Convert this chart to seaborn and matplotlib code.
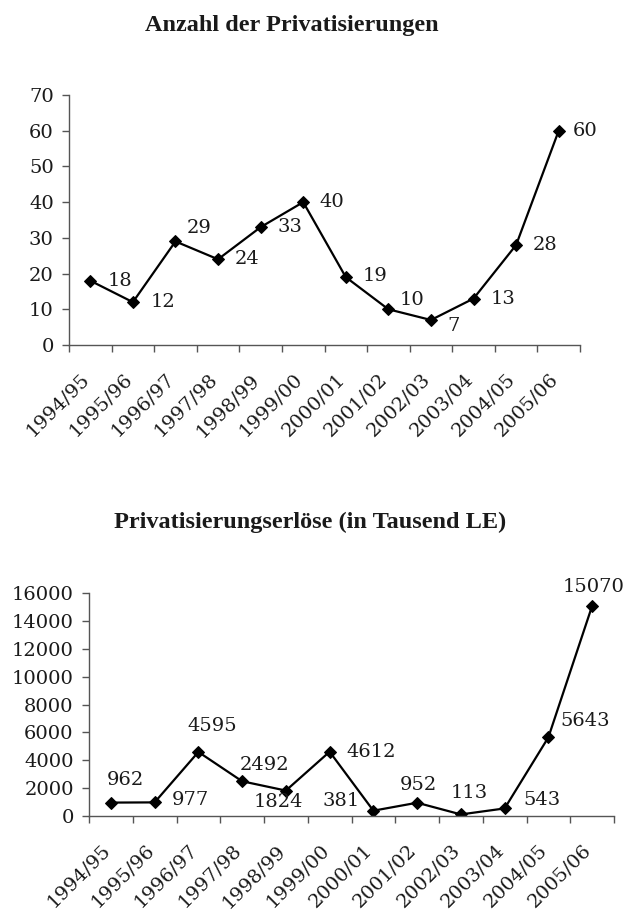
import matplotlib
matplotlib.use("Agg")
import matplotlib.pyplot as plt
import matplotlib.transforms as mtrans
import seaborn as sns
import pandas as pd

years = ["1994/95", "1995/96", "1996/97", "1997/98", "1998/99", "1999/00",
         "2000/01", "2001/02", "2002/03", "2003/04", "2004/05", "2005/06"]
anzahl = [18, 12, 29, 24, 33, 40, 19, 10, 7, 13, 28, 60]
erloese = [962, 977, 4595, 2492, 1824, 4612, 381, 952, 113, 543, 5643, 15070]

# label centre offsets in pixels (dx, dy up) from each marker
off_top = [(30, 0), (30, 0), (24, 13), (29, 0), (29, 0), (29, 0),
           (29, 1), (24, 9), (23, -6), (30, 0), (29, 0), (26, 0)]
off_bot = [(14, 23), (36, 2), (14, 26), (22, 16), (-7, -11), (42, 0),
           (-32, 10), (1, 18), (8, 21), (37, 8), (37, 16), (1, 19)]

sns.set_theme(style="white")
plt.rcParams['font.family'] = ['DejaVu Serif']

txtcol = "#1a1a1a"
axcol = "#555555"

fig = plt.figure(figsize=(6.25, 9.1), dpi=100)
ax1 = fig.add_axes([69 / 625, 1 - 345 / 910, 511 / 625, 250 / 910])
ax2 = fig.add_axes([89 / 625, 1 - 816 / 910, 525 / 625, 223 / 910])

def draw(ax, vals, ymax, ystep, offs):
    df = pd.DataFrame({"Jahr": list(range(len(years))), "Wert": vals})
    sns.lineplot(data=df, x="Jahr", y="Wert", ax=ax, color="black", linewidth=1.6,
                 marker="D", markersize=6.5, markeredgecolor="black", markerfacecolor="black")
    for i, v in enumerate(vals):
        dx, dy = offs[i]
        ax.annotate(str(v), (i, v), xytext=(dx * 0.72, dy * 0.72), textcoords="offset points",
                    ha="center", va="center", fontsize=14, color=txtcol)
    ax.set_xlim(-0.5, len(years) - 0.5)
    ax.set_ylim(0, ymax)
    ax.set_yticks(range(0, ymax + 1, ystep))
    ax.set_xticks(range(len(years)))
    ax.set_xticklabels(years, rotation=45, ha="right", va="top", rotation_mode="anchor")
    ax.set_xticks([i - 0.5 for i in range(len(years) + 1)], minor=True)
    ax.tick_params(axis="x", which="major", bottom=True, length=0, pad=18, labelsize=14,
                   labelcolor=txtcol)
    ax.tick_params(axis="x", which="minor", bottom=True, length=5, width=1, color=axcol,
                   direction="out")
    ax.tick_params(axis="y", left=True, length=5, width=1, color=axcol, direction="out",
                   labelsize=14, pad=6, labelcolor=txtcol)
    shift = mtrans.ScaledTranslation(-10 / 100, 0, fig.dpi_scale_trans)
    for lab in ax.get_xticklabels():
        lab.set_transform(lab.get_transform() + shift)
    for s in ["top", "right"]:
        ax.spines[s].set_visible(False)
    for s in ["left", "bottom"]:
        ax.spines[s].set_color(axcol)
        ax.spines[s].set_linewidth(1)
    ax.set_xlabel("")
    ax.set_ylabel("")

draw(ax1, anzahl, 70, 10, off_top)
draw(ax2, erloese, 16000, 2000, off_bot)

fig.text(292 / 625, 1 - 31 / 910, "Anzahl der Privatisierungen", ha="center", va="baseline",
         fontsize=17.5, fontweight="bold", family=["Liberation Serif"], color=txtcol)
fig.text(310 / 625, 1 - 528 / 910, "Privatisierungserlöse (in Tausend LE)", ha="center",
         va="baseline", fontsize=17.5, fontweight="bold", family=["Liberation Serif"], color=txtcol)

fig.savefig("out.png", dpi=100)
